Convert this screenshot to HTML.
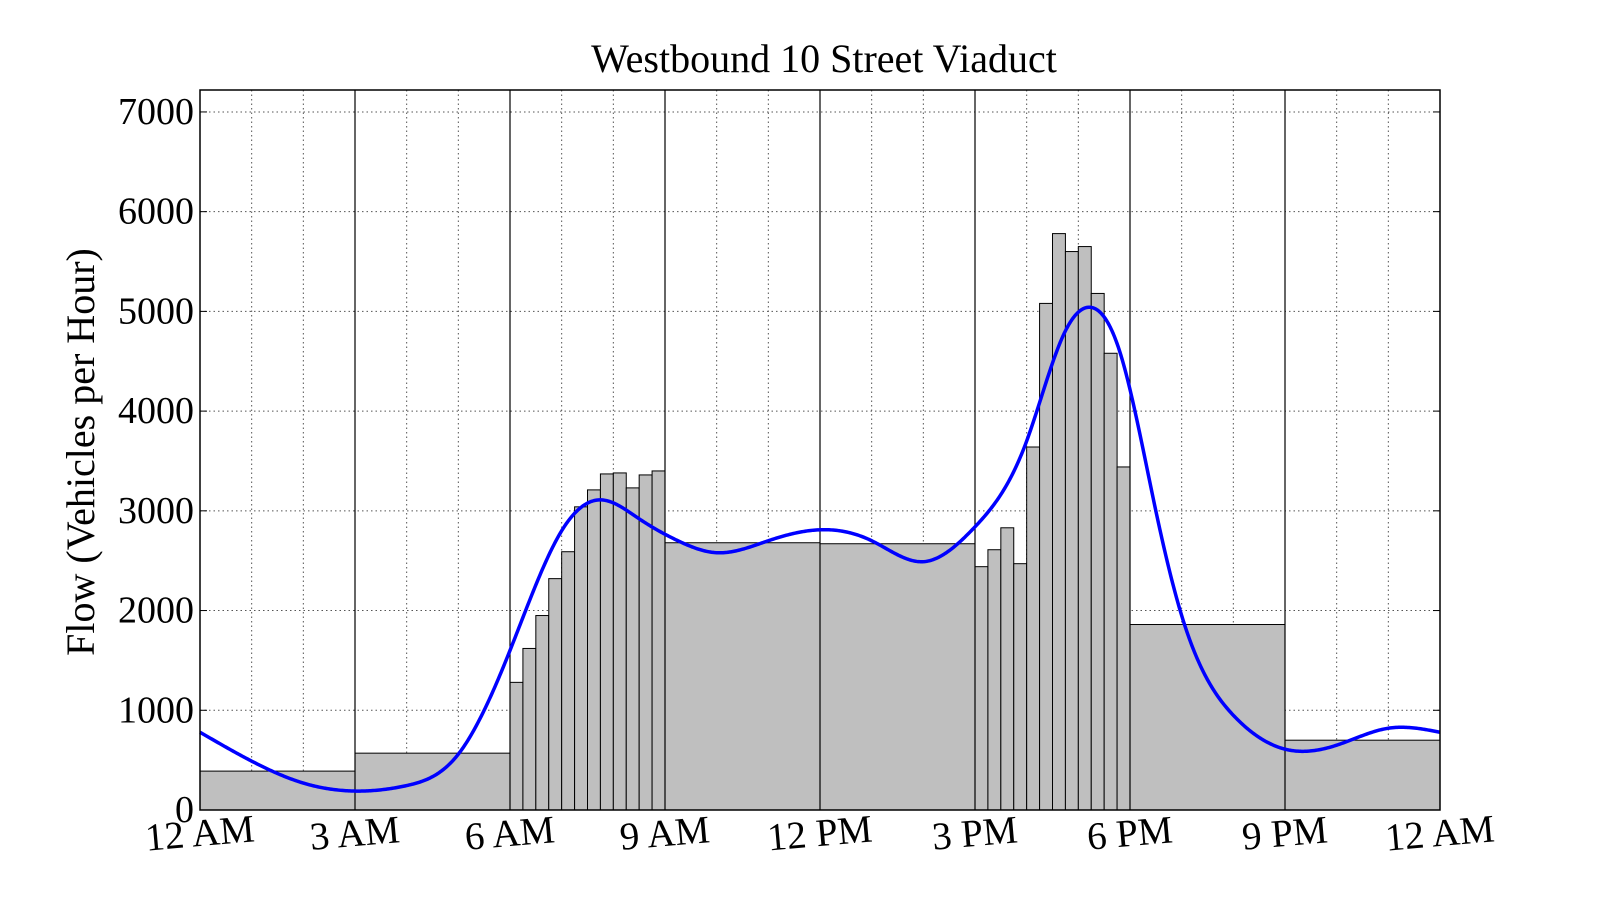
<!DOCTYPE html>
<html><head><meta charset="utf-8">
<style>
html,body{margin:0;padding:0;background:#fff;}
svg{display:block;font-family:"Liberation Serif",serif;}
</style></head>
<body>
<svg id="chart" width="1600" height="900" viewBox="0 0 1600 900"></svg>
<script>
const binStarts = [0,3,6,6.25,6.5,6.75,7,7.25,7.5,7.75,8,8.25,8.5,8.75,9,12,15,15.25,15.5,15.75,16,16.25,16.5,16.75,17,17.25,17.5,17.75,18,21];
const binEnds   = [3,6,6.25,6.5,6.75,7,7.25,7.5,7.75,8,8.25,8.5,8.75,9,12,15,15.25,15.5,15.75,16,16.25,16.5,16.75,17,17.25,17.5,17.75,18,21,24];
const binValues = [390,570,1280,1620,1950,2320,2590,3040,3210,3370,3380,3230,3360,3400,2680,2670,2440,2610,2830,2470,3640,5080,5780,5600,5650,5180,4580,3440,1860,700];
const curveHours = [0,1,2,3,4,5,6,7,7.75,8.5,9.25,10,11,12,13,14,15,16,16.7,17.25,17.8,18.5,19,20,21,22,23,24];
const curveValues = [780,490,270,190,245,560,1600,2800,3110,2920,2700,2580,2700,2810,2700,2490,2840,3700,4750,5040,4600,3000,1950,950,610,650,820,780];
const yTicks = [0,1000,2000,3000,4000,5000,6000,7000];
const xTickHours = [0,3,6,9,12,15,18,21,24];
const xTickLabels = ["12 AM","3 AM","6 AM","9 AM","12 PM","3 PM","6 PM","9 PM","12 AM"];

const L=200,R=1440,T=90,B=810,YMAX=7220;
const sx=h=>L+(R-L)*h/24;
const sy=v=>B-(B-T)*v/YMAX;
const svg=document.getElementById('chart');
const NS='http://www.w3.org/2000/svg';
function mk(tag,attrs,parent){const e=document.createElementNS(NS,tag);for(const k in attrs)e.setAttribute(k,attrs[k]);(parent||svg).appendChild(e);return e;}

const grid=mk('g',{});


for(let h=1;h<24;h++){mk('line',{x1:sx(h),x2:sx(h),y1:T,y2:B,stroke:'#555','stroke-width':1,'stroke-dasharray':'1.5,3'},grid);}
yTicks.forEach(v=>{if(v>0)mk('line',{x1:L,x2:R,y1:sy(v),y2:sy(v),stroke:'#555','stroke-width':1,'stroke-dasharray':'1.5,3'},grid);});

const bars=mk('g',{});


binValues.forEach((v,i)=>{
  const r=mk('rect',{x:sx(binStarts[i]),y:sy(v),width:sx(binEnds[i])-sx(binStarts[i]),height:B-sy(v),fill:'#bfbfbf',stroke:'#000','stroke-width':1},bars);
  
  
});
[3,6,9,12,15,18,21].forEach(h=>{mk('line',{x1:sx(h),x2:sx(h),y1:T,y2:B,stroke:'#000','stroke-width':1.2});});

// natural cubic spline
function spline(xs,ys){
  const n=xs.length,h=[],a=[],l=[1],mu=[0],z=[0],c=new Array(n).fill(0),b=[],d=[];
  for(let i=0;i<n-1;i++)h.push(xs[i+1]-xs[i]);
  for(let i=1;i<n-1;i++)a[i]=3/h[i]*(ys[i+1]-ys[i])-3/h[i-1]*(ys[i]-ys[i-1]);
  for(let i=1;i<n-1;i++){l[i]=2*(xs[i+1]-xs[i-1])-h[i-1]*mu[i-1];mu[i]=h[i]/l[i];z[i]=(a[i]-h[i-1]*z[i-1])/l[i];}
  l[n-1]=1;z[n-1]=0;
  for(let j=n-2;j>=0;j--){c[j]=z[j]-mu[j]*c[j+1];b[j]=(ys[j+1]-ys[j])/h[j]-h[j]*(c[j+1]+2*c[j])/3;d[j]=(c[j+1]-c[j])/(3*h[j]);}
  return x=>{let i=0;while(i<n-2&&x>xs[i+1])i++;const t=x-xs[i];return ys[i]+b[i]*t+c[i]*t*t+d[i]*t*t*t;};
}
const f=spline(curveHours,curveValues);
let d='';
for(let k=0;k<=960;k++){const h=24*k/960;d+=(k?'L':'M')+sx(h).toFixed(2)+','+sy(f(h)).toFixed(2);}
const line=mk('path',{d:d,fill:'none',stroke:'#0000ff','stroke-width':3.5,'stroke-linejoin':'round'});



mk('rect',{x:L,y:T,width:R-L,height:B-T,fill:'none',stroke:'#000','stroke-width':1.5});

yTicks.forEach(v=>{
  mk('line',{x1:L,x2:L+7,y1:sy(v),y2:sy(v),stroke:'#000'});
  mk('line',{x1:R,x2:R-7,y1:sy(v),y2:sy(v),stroke:'#000'});
  const t=mk('text',{x:L-6,y:sy(v)+12,'text-anchor':'end','font-size':38});
  t.textContent=v;
  
  
});
xTickHours.forEach((h,i)=>{
  const x=sx(h);
  const t=mk('text',{x:x,y:846,'text-anchor':'middle','font-size':39,transform:`rotate(-5 ${x} 836)`});
  t.textContent=xTickLabels[i];
  
  
});

const title=mk('text',{x:824,y:72,'text-anchor':'middle','font-size':40});
title.textContent='Westbound 10 Street Viaduct';


const yt=mk('text',{x:94,y:452,'text-anchor':'middle','font-size':40,transform:'rotate(-90 94 452)'});
yt.textContent='Flow (Vehicles per Hour)';


</script>
</body></html>
